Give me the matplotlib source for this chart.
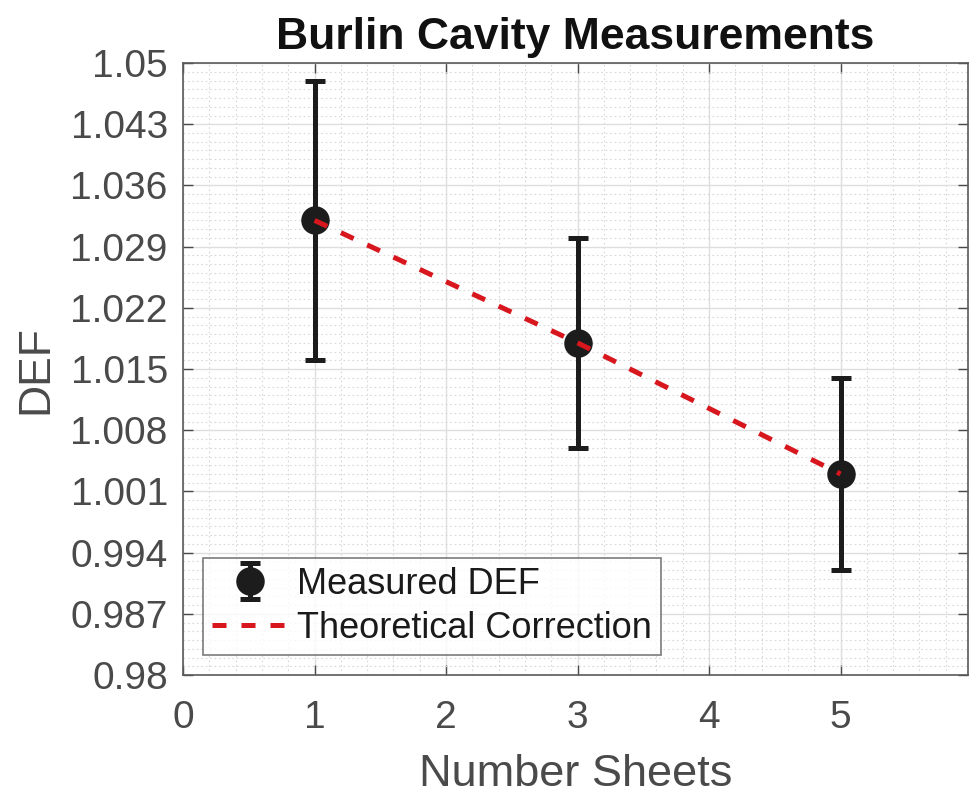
import matplotlib.pyplot as plt
import numpy as np
from matplotlib.ticker import MultipleLocator, FixedLocator

# Data
sheets = [1, 3, 5]
def_measured = [1.032, 1.018, 1.003]
def_err = [0.016, 0.012, 0.011]
theory_x = [1, 3, 5]
theory_y = [1.032, 1.018, 1.003]

y_ticks = [0.98, 0.987, 0.994, 1.001, 1.008, 1.015, 1.022, 1.029, 1.036, 1.043, 1.05]
x_ticks = [0, 1, 2, 3, 4, 5]

plt.rcParams['font.family'] = ['Liberation Sans', 'DejaVu Sans']

fig = plt.figure(figsize=(9.69, 7.98), dpi=100)
ax = fig.add_axes([0.189, 0.154, 0.81, 0.767])

gray = '#4a4a4a'

eb = ax.errorbar(sheets, def_measured, yerr=def_err, fmt='o', color='#1c1c1c',
                 markersize=19.5, elinewidth=3.6, capsize=7, capthick=3.6,
                 label='Measured DEF', zorder=3)
ln, = ax.plot(theory_x, theory_y, linestyle=(0, (2.8, 3.0)), color='#d8161d',
              linewidth=3.6, label='Theoretical Correction', zorder=4)

ax.set_xlim(0, 5.97)
ax.set_ylim(0.98, 1.05)
ax.xaxis.set_major_locator(FixedLocator(x_ticks))
ax.xaxis.set_minor_locator(MultipleLocator(0.2))
ax.yaxis.set_major_locator(FixedLocator(y_ticks))
ax.yaxis.set_minor_locator(MultipleLocator(0.001))
ax.set_yticklabels(['%g' % v for v in y_ticks])

ax.grid(which='major', color='#dedede', linewidth=1.0, linestyle='-')
ax.grid(which='minor', color='#d8d8d8', linewidth=0.8, linestyle=(0, (1.5, 2.5)))
ax.set_axisbelow(True)

ax.tick_params(which='both', direction='in', top=True, right=True,
               labelsize=28, colors=gray, labelcolor=gray)
ax.tick_params(which='major', length=7, width=1)
ax.tick_params(which='minor', length=0)
ax.tick_params(axis='x', which='major', pad=18)
ax.tick_params(axis='y', which='major', pad=11)
for s in ax.spines.values():
    s.set_color('#5a5a5a')
    s.set_linewidth(1.2)

ax.set_xlabel('Number Sheets', fontsize=32.5, color=gray, labelpad=13)
ax.set_ylabel('DEF', fontsize=32, color=gray, labelpad=10)
ax.set_title('Burlin Cavity Measurements', fontsize=32, fontweight='bold',
             color='#111111', pad=10)

leg = ax.legend([eb, ln], ['Measured DEF', 'Theoretical Correction'],
                loc='lower left', bbox_to_anchor=(0.025, 0.033), fontsize=26,
                frameon=True, fancybox=False, edgecolor='#5a5a5a',
                handlelength=2.1, handletextpad=0.25, borderpad=0.25,
                labelspacing=0.25, borderaxespad=0)
leg.get_frame().set_linewidth(1.2)
for t in leg.get_texts():
    t.set_color('#1a1a1a')

fig.savefig('out.png', dpi=100)
